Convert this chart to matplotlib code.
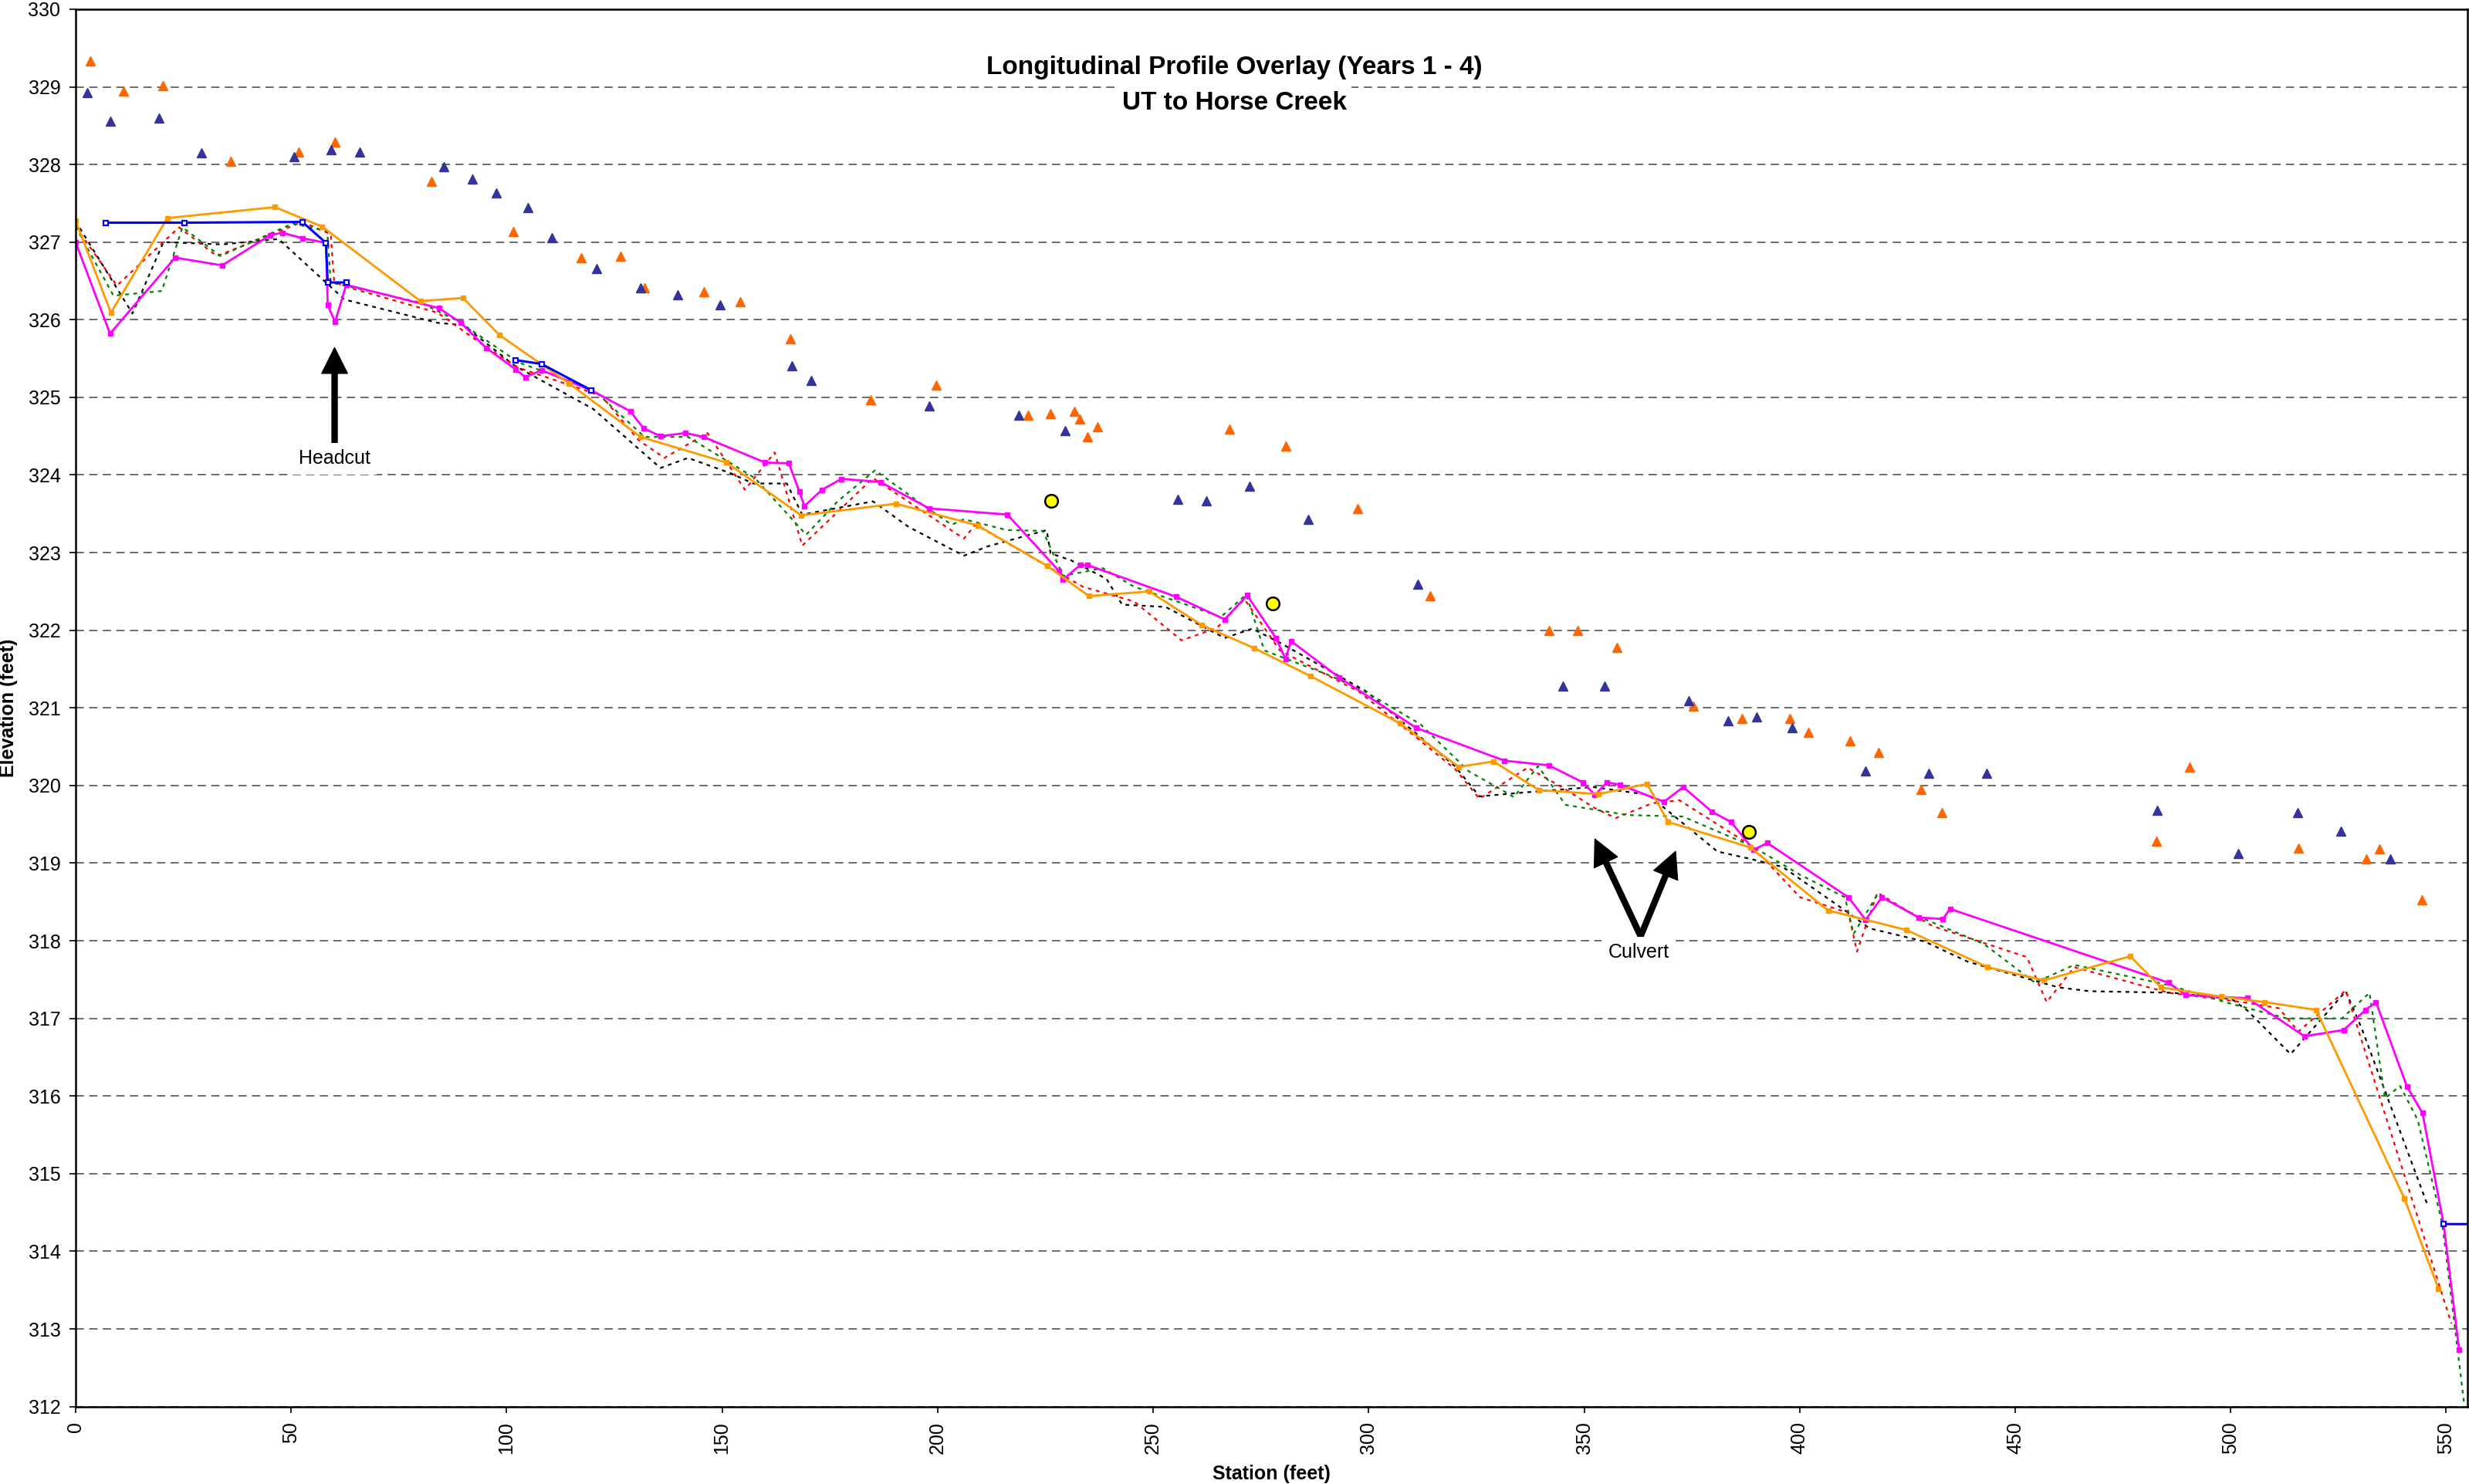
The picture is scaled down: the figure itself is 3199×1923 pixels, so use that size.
import numpy as np
import matplotlib
matplotlib.use("Agg")
import matplotlib.pyplot as plt

plt.rcParams['font.family'] = ['Liberation Sans', 'DejaVu Sans']

nan = np.nan

# thalweg surveys (solid lines with square markers)
mag_x = [0, 8.0, 23.1, 34.0, 45.2, 48.0, 52.6, 58.1, 58.5, 60.2, 62.8, 84.3, 89.4, 95.2,
         102.1, 104.4, 108.1, 119.7, 128.7, 131.8, 135.7, 141.5, 145.7, 160.0, 165.5, 167.9,
         169.1, 173.2, 177.7, 186.7, 198.0, 216.2, 228.2, 229.0, 233.1, 234.8, 255.4, 266.6,
         271.8, 278.5, 280.7, 282.0, 293.2, 311.1, 331.5, 341.8, 349.7, 352.5, 355.3, 358.3,
         368.5, 373.0, 379.7, 384.1, 389.3, 392.5, 411.3, 415.3, 419.1, 427.6, 433.2, 434.9,
         485.6, 489.5, 503.9, 517.1, 526.2, 531.3, 533.7, 540.9, 544.5, 549.4, 553.0]
mag_y = [327.0, 325.82, 326.80, 326.70, 327.09, 327.12, 327.05, 326.99, 326.19, 325.97, 326.45,
         326.15, 325.96, 325.64, 325.36, 325.26, 325.35, 325.09, 324.82, 324.60, 324.50, 324.54,
         324.49, 324.16, 324.15, 323.79, 323.60, 323.81, 323.95, 323.91, 323.57, 323.49, 322.76,
         322.65, 322.84, 322.84, 322.43, 322.14, 322.45, 321.90, 321.63, 321.86, 321.39, 320.74,
         320.32, 320.26, 320.04, 319.88, 320.04, 320.01, 319.79, 319.98, 319.66, 319.53, 319.17,
         319.26, 318.56, 318.27, 318.56, 318.30, 318.28, 318.41, 317.46, 317.30, 317.26, 316.77,
         316.85, 317.11, 317.21, 316.12, 315.78, 314.35, 312.73]

org_x = [0, 8.2, 21.3, 46.3, 57.2, 80.0, 89.9, 98.4, 114.5, 131.1, 151.0, 168.4, 190.3, 209.3,
         225.4, 235.1, 249.1, 261.2, 273.4, 286.5, 307.3, 320.9, 329.0, 339.5, 353.3, 364.6,
         369.5, 388.6, 406.6, 424.7, 443.6, 456.7, 476.7, 483.8, 497.8, 507.8, 519.8, 540.3, 548.2]
org_y = [327.28, 326.09, 327.31, 327.45, 327.20, 326.24, 326.28, 325.80, 325.18, 324.49, 324.16,
         323.48, 323.63, 323.35, 322.83, 322.44, 322.50, 322.07, 321.77, 321.41, 320.80, 320.24,
         320.31, 319.94, 319.89, 320.02, 319.53, 319.20, 318.39, 318.14, 317.66, 317.49, 317.80,
         317.40, 317.28, 317.21, 317.11, 314.68, 313.52]

blue_x = [7.0, 25.3, 52.6, 58.1, 58.5, 62.8, nan, 102.1, 108.1, 119.7, nan, 549.4, 556]
blue_y = [327.25, 327.25, 327.26, 326.99, 326.48, 326.48, nan, 325.48, 325.43, 325.09, nan,
          314.35, 314.35]

# dotted profiles
blk_x = [0, 13.2, 20.4, 34, 47.1, 62.4, 84.0, 90, 101.8, 120.1, 135.7, 142.1, 152.1, 157.2,
         165.0, 168.6, 185.0, 193.3, 206.1, 211.6, 225.3, 226.2, 231.0, 239.2, 242.8, 252.9,
         266.6, 273.0, 279.4, 299.5, 306.5, 320.0, 325.7, 336.1, 352.1, 364.9, 380.9, 388.9,
         396.1, 411.3, 416.2, 429.0, 439.0, 460.0, 467.3, 486.5, 500.2, 503.9, 513.9, 526.7,
         530.4, 545.5]
blk_y = [327.27, 326.08, 327.0, 326.97, 327.04, 326.26, 325.96, 325.93, 325.41, 324.85, 324.09,
         324.22, 324.02, 323.89, 323.89, 323.49, 323.66, 323.33, 322.96, 323.08, 323.29, 322.99,
         322.90, 322.66, 322.33, 322.30, 321.90, 322.02, 321.84, 321.21, 320.88, 320.25, 319.86,
         319.91, 319.98, 319.88, 319.15, 319.05, 318.95, 318.36, 318.16, 317.99, 317.73, 317.40,
         317.35, 317.33, 317.25, 317.10, 316.54, 317.35, 316.87, 314.62]

red_x = [0, 9.6, 24.0, 32.8, 52.6, 59.2, 60.0, 62.4, 84.0, 95.2, 102.8, 122.0, 130.6, 136.6,
         146.6, 155.3, 162.2, 168.6, 185.0, 206.1, 208.8, 225.3, 233.7, 245.6, 256.6, 264.8,
         271.2, 279.4, 297.7, 309.7, 320.1, 325.7, 336.9, 345.7, 352.1, 357.3, 365.7, 372.1,
         388.9, 400.1, 411.3, 413.3, 418.0, 430.8, 452.7, 457.3, 463.7, 485.6, 503.9, 511.2,
         515.7, 526.7, 551.2]
red_y = [327.20, 326.44, 327.19, 326.82, 327.26, 327.10, 326.49, 326.43, 326.09, 325.65, 325.38,
         325.02, 324.45, 324.22, 324.54, 323.81, 324.29, 323.09, 323.96, 323.18, 323.36, 322.83,
         322.56, 322.37, 321.87, 322.03, 322.40, 321.74, 321.21, 320.68, 320.21, 319.83, 320.23,
         319.95, 319.72, 319.58, 319.77, 319.81, 319.22, 318.56, 318.36, 317.86, 318.62, 318.19,
         317.79, 317.21, 317.66, 317.33, 317.20, 317.13, 316.83, 317.36, 313.07]

grn_x = [0, 8.8, 20.0, 24.8, 33.6, 50.4, 58.4, 59.2, 80.0, 88.8, 102.8, 120.1, 132.0, 142.1,
         157.6, 169.5, 176.8, 185.5, 197.9, 203.3, 206.1, 216.1, 224.4, 226.2, 229.1, 238.3,
         245.6, 255.6, 265.7, 271.6, 275.8, 291.3, 299.5, 312.0, 323.3, 329.7, 333.7, 339.3,
         345.7, 360.0, 372.9, 388.9, 400.1, 410.5, 412.5, 418.0, 427.2, 442.7, 454.6, 463.7,
         485.6, 499.3, 513.0, 525.8, 532.2, 535.8, 539.3, 543.4, 549.1, 554.2]
grn_y = [327.20, 326.31, 326.37, 327.19, 326.82, 327.24, 327.14, 326.48, 326.22, 325.98, 325.45,
         325.10, 324.49, 324.49, 323.96, 323.23, 323.66, 324.06, 323.56, 323.36, 323.43, 323.29,
         323.28, 323.06, 322.70, 322.80, 322.56, 322.37, 322.17, 322.46, 321.74, 321.41, 321.20,
         320.79, 320.18, 319.98, 319.85, 320.25, 319.75, 319.62, 319.60, 319.22, 318.85, 318.56,
         318.09, 318.59, 318.32, 317.96, 317.46, 317.69, 317.43, 317.20, 317.00, 317.00, 317.33,
         315.97, 316.13, 315.69, 314.35, 312.02]

# bank points (triangles)
otri_x = [3.4, 11.1, 20.2, 36.0, 51.7, 60.2, 82.6, 101.5, 117.3, 126.5, 132.0, 145.8, 154.2,
          165.9, 184.4, 199.6, 220.9, 226.2, 231.7, 233.0, 234.7, 237.1, 267.7, 280.8, 297.5,
          314.2, 341.9, 348.5, 357.6, 375.3, 386.6, 397.8, 402.1, 411.6, 418.3, 428.2, 432.9,
          482.7, 490.5, 515.7, 531.4, 534.6, 544.3]
otri_y = [329.33, 328.95, 329.02, 328.04, 328.16, 328.29, 327.78, 327.14, 326.80, 326.82, 326.41,
          326.36, 326.23, 325.75, 324.97, 325.16, 324.77, 324.79, 324.82, 324.72, 324.49, 324.62,
          324.59, 324.37, 323.57, 322.44, 322.00, 322.00, 321.78, 321.02, 320.86, 320.86, 320.68,
          320.58, 320.43, 319.95, 319.65, 319.28, 320.24, 319.19, 319.05, 319.18, 318.53]

ntri_x = [2.7, 8.0, 19.3, 29.2, 50.7, 59.2, 65.9, 85.4, 92.1, 97.6, 104.9, 110.5, 120.9, 131.1,
          139.7, 149.5, 166.2, 170.6, 198.1, 218.9, 229.5, 255.8, 262.3, 272.3, 286.0, 311.4,
          345.1, 354.7, 374.2, 383.4, 390.1, 398.3, 415.3, 429.9, 443.4, 482.9, 501.8, 515.6,
          525.5, 537.0]
ntri_y = [328.93, 328.56, 328.60, 328.15, 328.10, 328.19, 328.16, 327.97, 327.81, 327.63, 327.44,
          327.06, 326.66, 326.41, 326.32, 326.19, 325.41, 325.22, 324.89, 324.77, 324.57, 323.69,
          323.67, 323.86, 323.43, 322.59, 321.28, 321.28, 321.09, 320.83, 320.88, 320.74, 320.19,
          320.16, 320.16, 319.68, 319.12, 319.65, 319.41, 319.05]

circ_x = [226.4, 277.8, 388.2]
circ_y = [323.67, 322.34, 319.40]

fig = plt.figure(figsize=(31.99, 19.23), dpi=100)
ax = fig.add_axes([0.0306, 0.0522, 0.9689, 0.9416])

dots = dict(lw=1.6, linestyle=(0, (2.2, 2.6)))
ax.plot(blk_x, blk_y, color='black', **dots)
ax.plot(red_x, red_y, color='#ff0000', **dots)
ax.plot(grn_x, grn_y, color='#008000', **dots)

ax.plot(mag_x, mag_y, color='#ff00ff', lw=2.0, marker='s', ms=5)
ax.plot(org_x, org_y, color='#ff9900', lw=2.0, marker='s', ms=5)
ax.plot(blue_x, blue_y, color='#0000ff', lw=2.2, marker='s', ms=5, mfc='white', mew=1.6)

ax.plot(otri_x, otri_y, ls='none', marker='^', ms=8.5, color='#ff6600')
ax.plot(ntri_x, ntri_y, ls='none', marker='^', ms=8.5, color='#333399')
ax.plot(circ_x, circ_y, ls='none', marker='o', ms=12, mfc='#ffff00', mec='black', mew=1.8)

ax.set_xlim(0, 555)
ax.set_ylim(312, 330)
ax.set_xticks(np.arange(0, 551, 50))
ax.set_yticks(np.arange(312, 331, 1))
ax.tick_params(axis='both', labelsize=18, direction='out', width=1.2, length=6)
ax.tick_params(axis='x', labelrotation=90, pad=8)
ax.tick_params(axis='y', pad=8)
ax.yaxis.grid(True, color='#444444', lw=1.1, linestyle=(0, (7, 4.5)))
ax.set_axisbelow(True)
for s in ax.spines.values():
    s.set_linewidth(1.8)

ax.set_xlabel('Station (feet)', fontsize=18, fontweight='bold', labelpad=10)
ax.set_ylabel('Elevation (feet)', fontsize=18, fontweight='bold', labelpad=10)

box = dict(facecolor='white', edgecolor='none', pad=4)
fig.text(0.5, 0.9501, 'Longitudinal Profile Overlay (Years 1 - 4)', ha='center', va='baseline',
         fontsize=24, fontweight='bold', bbox=box)
fig.text(0.5, 0.9263, 'UT to Horse Creek', ha='center', va='baseline',
         fontsize=24, fontweight='bold', bbox=box)

arrow = dict(facecolor='black', edgecolor='black', width=5, headwidth=24, headlength=24, shrink=0)
ax.annotate('', xy=(60.1, 325.64), xytext=(60.1, 324.39), arrowprops=arrow)
ax.text(60.1, 324.21, 'Headcut', ha='center', va='center', fontsize=18, bbox=dict(facecolor='white', edgecolor='none', pad=6))

ax.annotate('', xy=(352.5, 319.31), xytext=(363.1, 318.06), arrowprops=arrow)
ax.annotate('', xy=(371.2, 319.15), xytext=(363.1, 318.06), arrowprops=arrow)
ax.text(362.6, 317.85, 'Culvert', ha='center', va='center', fontsize=18, bbox=dict(facecolor='white', edgecolor='none', pad=6))

fig.savefig('out.png', dpi=100)
